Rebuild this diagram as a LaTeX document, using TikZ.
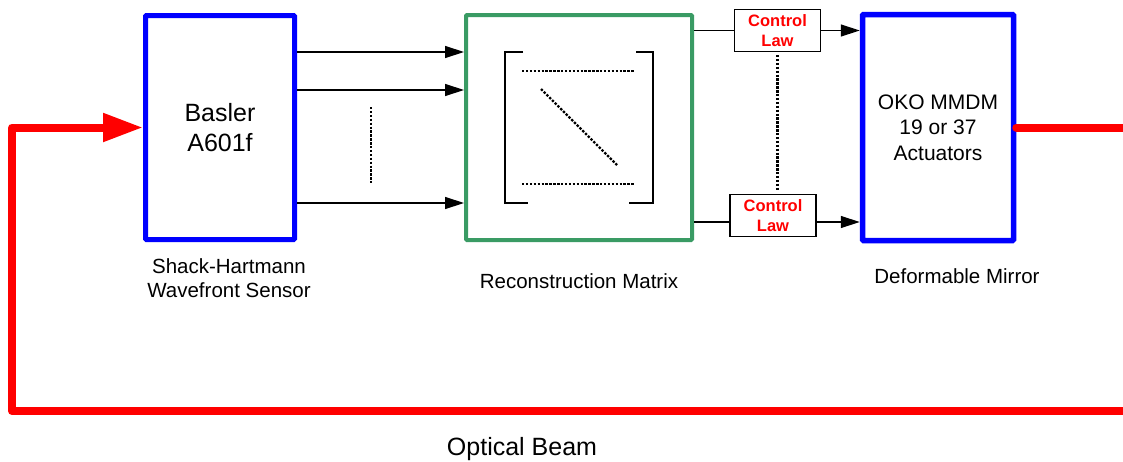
\documentclass[tikz,border=0pt]{standalone}
\usepackage{fontspec}
\setmainfont{Liberation Sans}
\usetikzlibrary{arrows.meta,positioning}
\definecolor{boxblue}{RGB}{0,0,255}
\definecolor{beamred}{RGB}{255,0,0}
\definecolor{rmgreen}{RGB}{58,155,100}

\begin{document}
\begin{tikzpicture}[x=1pt,y=-1pt,
	blk/.style={draw=boxblue,line width=5pt,rounded corners=1pt,minimum height=224pt,align=center},
	law/.style={draw,line width=1.3pt,minimum width=86pt,minimum height=42pt,inner sep=0pt,
		align=center,text=beamred,font=\bfseries\fontsize{16.5}{19.5}\selectfont},
	lbl/.style={inner sep=0pt,align=center,font=\fontsize{20.5}{24}\selectfont},
	sig/.style={line width=1.3pt,-{Triangle[length=19pt,width=12pt]}},
	dots/.style={line width=2.2pt,dash pattern=on 2.4pt off 1.5pt},
	beam/.style={draw=beamred,line width=8pt,line cap=round,line join=round}]
\useasboundingbox (0,0) rectangle (1123,461);
% boxes
\node[blk,minimum width=149pt,font=\fontsize{25}{30}\selectfont] (s) at (220,127.5) {Basler\\A601f};
\node[draw=rmgreen,line width=4pt,rounded corners=1pt,minimum width=226pt,minimum height=225pt] (r) at (579,127.5) {};
\node[blk,line width=5.5pt,minimum width=151pt,minimum height=226pt,font=\fontsize{21}{25.5}\selectfont] (m) at (938,127.5) {OKO MMDM\\19 or 37\\Actuators};
\node[law] (c1) at (777.5,30.5) {Control\\Law};
\node[law] (c2) at (773,215.5) {Control\\Law};
% labels
\node[lbl] (sl)[below=16pt of s,xshift=9pt]{Shack-Hartmann\\Wavefront Sensor};
\node[lbl] (rl)[below=31pt of r]{Reconstruction Matrix};
\node[lbl] (ml)[below=25pt of m,xshift=19pt]{Deformable Mirror};
\node[lbl,font=\fontsize{25}{30}\selectfont] (bl) at (522,449) {Optical Beam};
% slopes to the matrix
\foreach \y in {52,90,203}
	\draw[sig] (s.east |- 0,\y) -- (r.west |- 0,\y);
\draw[dots] (371,107) -- (371,183);
% matrix
\draw[line width=1.3pt] (523,52) -- (505,52) -- (505,203) -- (528,203);
\draw[line width=1.3pt] (636,52) -- (653,52) -- (653,203) -- (629,203);
\draw[dots] (522,71) -- (634,71);
\draw[dots] (522,184) -- (634,184);
\draw[dots] (541,89) -- (617,165);
% control laws
\draw[line width=1.3pt] (r.east |- c1) -- (c1);
\draw[sig] (c1) -- (m.west |- c1);
\draw[line width=1.3pt] (r.east |- 0,222) -- (c2.west |- 0,222);
\draw[sig] (c2.east |- 0,222) -- (m.west |- 0,222);
\draw[dots] (c1.south |- 0,55) -- (c1.south |- 0,190);
% optical beam
\draw[beam,-{Triangle[length=40pt,width=27pt]}] (m.east) -- (1140,127.5) -- (1140,411) -- (12,411) -- (12,127.5) -- (s.west);
\end{tikzpicture}
\end{document}
